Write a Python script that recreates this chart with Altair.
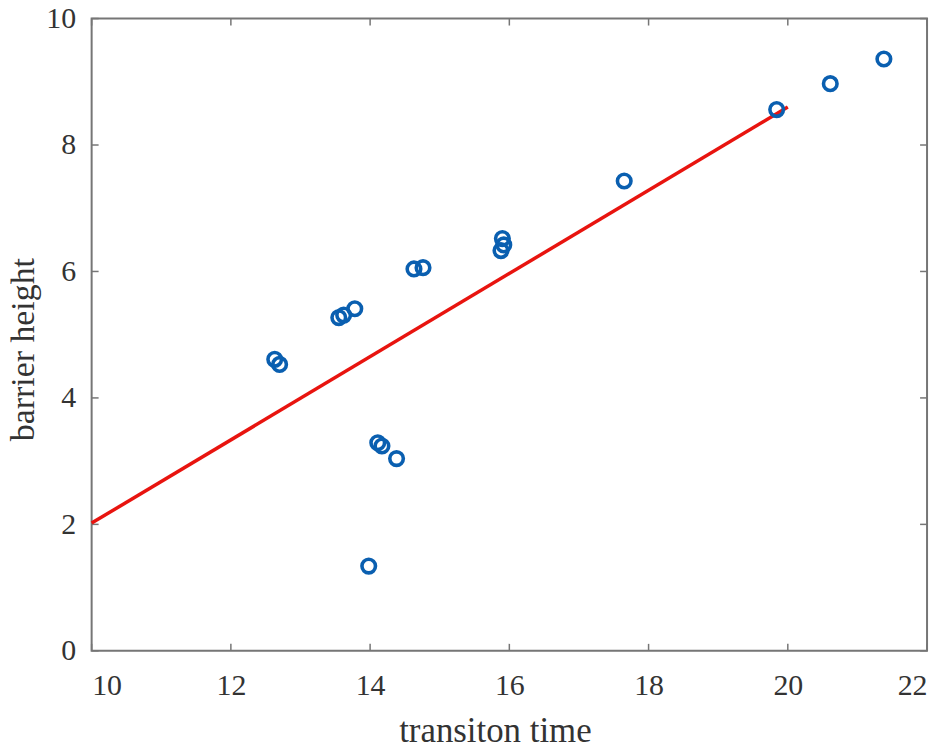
import altair as alt
import pandas as pd

# scatter data
trans_time = [12.63, 12.70, 13.55, 13.62, 13.78, 14.11, 14.17, 14.38, 13.98,
              14.63, 14.76, 15.88, 15.92, 15.90, 17.65, 19.84, 20.61, 21.38]
barrier = [4.61, 4.53, 5.27, 5.31, 5.41, 3.29, 3.24, 3.04, 1.34,
           6.04, 6.06, 6.33, 6.42, 6.52, 7.43, 8.56, 8.97, 9.36]

# fitted line endpoints
fit_x = [10.0, 20.0]
fit_y = [2.02, 8.60]

x_ticks = [10, 12, 14, 16, 18, 20, 22]
y_ticks = [0, 2, 4, 6, 8, 10]

W, H = 839, 635
FONT = "Liberation Serif"
AXC = "#767676"
TXT = "#333333"

pts = pd.DataFrame({"x": trans_time, "y": barrier})
fit = pd.DataFrame({"x": fit_x, "y": fit_y})
xt = pd.DataFrame({"v": x_ticks})
yt = pd.DataFrame({"v": y_ticks})

xscale = alt.Scale(domain=[10, 22], nice=False, zero=False)
yscale = alt.Scale(domain=[0, 10], nice=False, zero=False)

xaxis = alt.Axis(values=x_ticks, format="d", ticks=False, grid=False, domain=False,
                 labelFont=FONT, labelFontSize=30, labelColor=TXT, labelPadding=20,
                 title="transiton time", titleFont=FONT, titleFontSize=35,
                 titleFontWeight="normal", titleColor=TXT,
                 titleX=405, titleY=91, titleBaseline="alphabetic")
yaxis = alt.Axis(values=y_ticks, format="d", ticks=False, grid=False, domain=False,
                 labelFont=FONT, labelFontSize=30, labelColor=TXT, labelPadding=16,
                 title="barrier height", titleFont=FONT, titleFontSize=34,
                 titleFontWeight="normal", titleColor=TXT,
                 titleX=-58, titleY=332, titleBaseline="alphabetic", titleAngle=270)

points = alt.Chart(pts).mark_point(shape="circle", filled=False, size=185,
                                   strokeWidth=3.6, color="#0a5fb0", opacity=1).encode(
    x=alt.X("x:Q", scale=xscale, axis=xaxis),
    y=alt.Y("y:Q", scale=yscale, axis=yaxis),
)

line = alt.Chart(fit).mark_line(color="#e8140f", strokeWidth=3.5).encode(
    x=alt.X("x:Q", scale=xscale),
    y=alt.Y("y:Q", scale=yscale),
)

tl = 7
xb = alt.Chart(xt).mark_rule(color=AXC, strokeWidth=1.5).encode(
    x=alt.X("v:Q", scale=xscale), y=alt.value(H), y2=alt.value(H - tl))
xtop = alt.Chart(xt).mark_rule(color=AXC, strokeWidth=1.5).encode(
    x=alt.X("v:Q", scale=xscale), y=alt.value(0), y2=alt.value(tl))
yl = alt.Chart(yt).mark_rule(color=AXC, strokeWidth=1.5).encode(
    y=alt.Y("v:Q", scale=yscale), x=alt.value(0), x2=alt.value(tl))
yr = alt.Chart(yt).mark_rule(color=AXC, strokeWidth=1.5).encode(
    y=alt.Y("v:Q", scale=yscale), x=alt.value(W), x2=alt.value(W - tl))

chart = alt.layer(xb, xtop, yl, yr, line, points).properties(
    width=W, height=H,
    background="white",
    autosize=alt.AutoSizeParams(type="none"),
    padding={"left": 84, "top": 9, "right": 10, "bottom": 99},
).configure_view(stroke=AXC, strokeWidth=2)

chart.save("out.html", embed_options={"renderer": "svg", "actions": False})
